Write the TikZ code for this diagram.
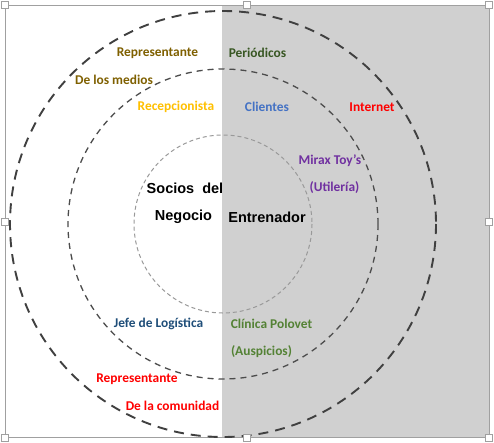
\documentclass[tikz,border=0pt]{standalone}
\usepackage{fontspec}
\setmainfont{Carlito}
\newfontfamily\arialb{Liberation Sans}
\definecolor{bgray}{RGB}{208,208,208}
\definecolor{fgray}{RGB}{160,160,160}
\definecolor{cbrown}{RGB}{127,96,0}
\definecolor{cdgreen}{RGB}{56,87,35}
\definecolor{cgold}{RGB}{255,192,0}
\definecolor{cblue}{RGB}{68,114,196}
\definecolor{cpurple}{RGB}{112,48,160}
\definecolor{cnavy}{RGB}{31,78,121}
\definecolor{cgreen}{RGB}{84,130,53}
\tikzset{
  lbl/.style={font=\fontsize{13.4}{15}\selectfont\bfseries, inner sep=0pt, anchor=center},
  blk/.style={font=\arialb\fontsize{14.5}{16}\selectfont\bfseries, inner sep=0pt, anchor=center, text=black},
  handle/.style={draw=fgray, fill=white, line width=0.8pt, minimum size=7pt, inner sep=0pt, rectangle},
  outerring/.style={draw=black!75, line width=1.9pt, dash pattern=on 10pt off 7pt},
  midring/.style={draw=black!70, line width=1.3pt, dash pattern=on 6pt off 5pt},
  innerring/.style={draw=black!40, line width=1pt, dash pattern=on 4pt off 3pt}
}
\begin{document}
\begin{tikzpicture}[x=1pt,y=-1pt]
\useasboundingbox (0,0) rectangle (494,442);
\fill[white] (0,0) rectangle (494,442);
\fill[bgray] (222,5) rectangle (489,437.5);
\draw[fgray, line width=1pt] (5,5) rectangle (489,437.5);
% rings
\coordinate (c) at (223,224);
\draw[outerring] (c) circle[radius=213];
\draw[midring] (c) circle[radius=155];
\draw[innerring] (c) circle[radius=89];
% labels
\node[lbl, text=cbrown] (rep1) at (157.5,53) {Representante};
\node[lbl, text=cdgreen] (per) at (257.5,53) {Periódicos};
\node[lbl, text=cbrown] (med) at (114,80) {De los medios};
\node[lbl, text=cgold] (rec) at (176,107) {Recepcionista};
\node[lbl, text=cblue] (cli) at (267,107) {Clientes};
\node[lbl, text=red] (int) at (372,107) {Internet};
\node[lbl, text=cpurple] (mir) at (330,161) {Mirax Toy’s};
\node[lbl, text=cpurple] (uti) at (334.5,188) {(Utilería)};
\node[blk] (soc) at (185,188) {Socios\ \ del};
\node[blk] (neg) at (183.5,217) {Negocio};
\node[blk] (ent) at (267,217) {Entrenador};
\node[lbl, text=cnavy] (jef) at (158.5,324) {Jefe de Logística};
\node[lbl, text=cgreen] (cln) at (271.5,324) {Clínica Polovet};
\node[lbl, text=cgreen] (aus) at (261.5,352) {(Auspicios)};
\node[lbl, text=red] (rep2) at (137,379) {Representante};
\node[lbl, text=red] (com) at (172.5,406) {De la comunidad};
% selection handles
\foreach \x/\y [count=\i] in {5/5, 247/5, 489/5, 5/221.5, 489/221.5, 5/437.5, 247/437.5, 489/437.5}
  \node[handle] (h\i) at (\x,\y) {};
\end{tikzpicture}
\end{document}
